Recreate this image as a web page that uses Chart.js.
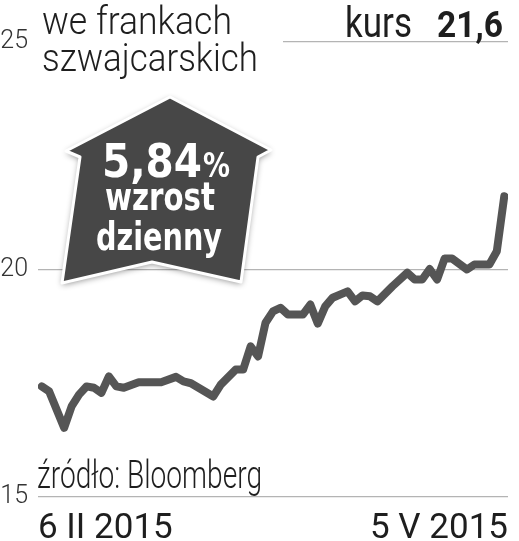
<!DOCTYPE html>
<html>
<head>
<meta charset="utf-8">
<script src="https://cdn.jsdelivr.net/npm/chart.js@4"></script>
<style>
  html, body { margin: 0; padding: 0; background: #fff; }
  #wrap { width: 519px; height: 541px; }
</style>
</head>
<body>
<div id="wrap"><canvas id="chart" width="519" height="541"></canvas></div>
<script>
// trading day index (6 II 2015 = 0 ... 5 V 2015 = 62) and CHF rate
const days = [0, 1, 3, 4, 5, 6, 7, 8, 9, 10, 11, 13, 16, 18, 19, 20, 23, 24, 26, 27, 28, 29,
  30, 31, 32, 33, 35, 36, 37, 38, 39, 41, 42, 43, 44, 45, 47, 49, 50, 51, 52, 53, 54, 55,
  57, 58, 60, 61, 62]
const rates = [17.43, 17.32, 16.52, 16.99, 17.25, 17.43, 17.40, 17.29, 17.65, 17.43, 17.40,
  17.52, 17.52, 17.64, 17.54, 17.50, 17.21, 17.47, 17.80, 17.80, 18.31, 18.09,
  18.83, 19.08, 19.16, 19.01, 19.01, 19.23, 18.81, 19.19, 19.38, 19.52, 19.30, 19.43,
  19.41, 19.30, 19.63, 19.93, 19.78, 19.78, 20.01, 19.78, 20.24, 20.24,
  20.00, 20.11, 20.11, 20.40, 21.61]
const yTicks = [15, 20, 25]
const dateLabels = ['6 II 2015', '5 V 2015']
const titleLines = ['we frankach', 'szwajcarskich']
const rateLabel = 'kurs'
const rateValue = '21,6'
const badgeLines = ['5,84', '%', 'wzrost', 'dzienny']
const sourceText = 'źródło: Bloomberg'

const FONT = 'Roboto, "DejaVu Sans Condensed", sans-serif'
const BOLD = '"DejaVu Sans Condensed", Roboto, sans-serif'
const INK = '#1e1e1e'

const decor = {
  id: 'decor',
  beforeDatasetsDraw (chart) {
    const ctx = chart.ctx
    ctx.save()
    // white panel behind the title hides the left part of the 25 gridline
    ctx.fillStyle = '#fff'
    ctx.fillRect(36, 0, 247, 90)
    ctx.restore()
  },
  afterDraw (chart) {
    const ctx = chart.ctx
    ctx.save()
    ctx.fillStyle = INK
    ctx.textBaseline = 'alphabetic'
    ctx.textAlign = 'left'

    ctx.font = '300 38px ' + FONT
    ctx.fillText(titleLines[0], 42, 34, 190)
    ctx.fillText(titleLines[1], 42, 71, 216)

    ctx.font = 'bold 37px ' + FONT
    ctx.fillText(rateValue, 437, 37, 66)
    ctx.font = '43px ' + FONT
    ctx.fillText(rateLabel, 345, 37, 67)

    ctx.font = '300 38px ' + FONT
    ctx.fillText(sourceText, 37, 488, 225)

    // badge
    ctx.beginPath()
    ctx.moveTo(170, 97)
    ctx.lineTo(271, 150)
    ctx.lineTo(258, 157)
    ctx.lineTo(241, 282)
    ctx.lineTo(152, 262)
    ctx.lineTo(62, 283)
    ctx.lineTo(80, 157)
    ctx.lineTo(66, 151)
    ctx.closePath()
    ctx.shadowColor = 'rgba(0,0,0,0.45)'
    ctx.shadowBlur = 6
    ctx.shadowOffsetY = 2
    ctx.fillStyle = '#474747'
    ctx.fill()
    ctx.shadowColor = 'transparent'
    ctx.lineWidth = 3
    ctx.strokeStyle = '#fff'
    ctx.lineJoin = 'round'
    ctx.stroke()

    ctx.fillStyle = '#fff'
    ctx.font = 'bold 46px ' + BOLD
    ctx.fillText(badgeLines[0], 102, 177, 100)
    ctx.font = 'bold 34px ' + BOLD
    ctx.fillText(badgeLines[1], 203, 177, 27)
    ctx.font = 'bold 39px ' + BOLD
    ctx.fillText(badgeLines[2], 105, 210, 110)
    ctx.fillText(badgeLines[3], 96, 250, 126)
    ctx.restore()
  }
}

const config = {
  type: 'line',
  data: {
    datasets: [{
      data: days.map((d, i) => ({ x: d, y: rates[i] })),
      borderColor: '#555555',
      borderWidth: 8,
      borderJoinStyle: 'round',
      borderCapStyle: 'round',
      pointRadius: 0,
      tension: 0
    }]
  },
  options: {
    responsive: false,
    animation: false,
    layout: { padding: { top: 42, right: 11, left: 0, bottom: 0 } },
    plugins: { legend: { display: false }, tooltip: { enabled: false } },
    scales: {
      x: {
        type: 'linear',
        min: -0.5,
        max: 62.5,
        grid: { display: false },
        border: { display: false },
        afterBuildTicks: (s) => { s.ticks = [{ value: -0.5 }, { value: 62.5 }] },
        afterFit: (s) => { s.height = 44 },
        ticks: {
          align: 'inner',
          maxRotation: 0,
          padding: 3,
          color: INK,
          font: { family: FONT, size: 35 },
          callback: (v, i) => dateLabels[i]
        }
      },
      y: {
        min: 15,
        max: 25,
        afterBuildTicks: (s) => { s.ticks = yTicks.map(v => ({ value: v })) },
        afterFit: (s) => { s.width = 38 },
        grid: { color: '#b4b4b4', lineWidth: 1.2, drawTicks: false },
        border: { display: false },
        ticks: {
          padding: 10,
          color: '#333',
          font: { family: FONT, size: 25, weight: '300' }
        }
      }
    }
  },
  plugins: [decor]
}

new Chart(document.getElementById('chart'), config)
</script>
</body>
</html>
